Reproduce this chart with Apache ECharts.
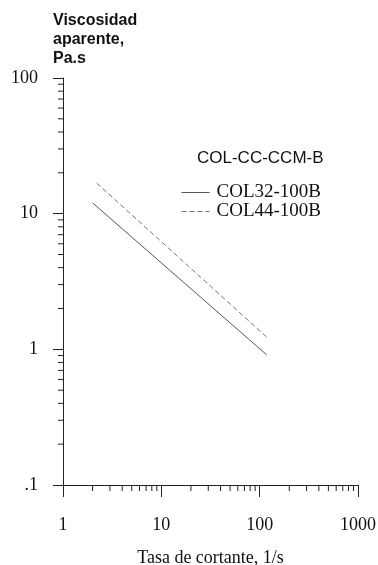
<!DOCTYPE html>
<html>
<head>
<meta charset="utf-8">
<script src="https://cdn.jsdelivr.net/npm/echarts@6/dist/echarts.min.js"></script>
<style>
  html, body { margin: 0; padding: 0; background: #fff; }
  #main { width: 378px; height: 565px; }
</style>
</head>
<body>
<div id="main"></div>
<script>
// datos (log-log)
var seriesNames = ['COL32-100B', 'COL44-100B'];
var col32X = [2.0, 118];
var col32Y = [12.0, 0.91];
var col44X = [2.2, 121];
var col44Y = [16.8, 1.21];
// marcas menores
var xMinor = [2, 3, 4, 5, 6, 7, 8, 9, 20, 30, 40, 50, 60, 70, 80, 90, 200, 300, 400, 500, 600, 700, 800, 900];
var yMinor = [0.2, 0.3, 0.4, 0.5, 0.6, 0.7, 0.8, 0.9, 2, 3, 4, 5, 6, 7, 8, 9, 20, 30, 40, 50, 60, 70, 80, 90];

var chart = echarts.init(document.getElementById('main'));

function pairs(xs, ys) {
  return xs.map(function (x, i) { return [x, ys[i]]; });
}

var serif = 'Liberation Serif';
var sans = 'Liberation Sans';

var option = {
  backgroundColor: '#fff',
  animation: false,
  title: [
    {
      text: 'Viscosidad\naparente,\nPa.s',
      left: 53, top: 11, padding: 0,
      textStyle: { fontFamily: sans, fontSize: 16, fontWeight: 'bold', color: '#111', lineHeight: 19 }
    },
    {
      text: 'COL-CC-CCM-B',
      left: 197, top: 150, padding: 0,
      textStyle: { fontFamily: sans, fontSize: 17, fontWeight: 'normal', color: '#111' }
    }
  ],
  legend: {
    data: seriesNames,
    orient: 'vertical',
    left: 176, top: 178,
    itemWidth: 28, itemHeight: 14, itemGap: 0,
    itemStyle: { opacity: 0 },
    lineStyle: { width: 1 },
    textStyle: { fontFamily: serif, fontSize: 19, color: '#111', padding: [0, 0, 0, 2] }
  },
  grid: { left: 63, right: 20, top: 78, bottom: 80, outerBoundsMode: 'none' },
  xAxis: {
    type: 'log', logBase: 10, min: 1, max: 1000,
    name: 'Tasa de cortante, 1/s',
    nameLocation: 'middle', nameGap: 64,
    nameTextStyle: { fontFamily: serif, fontSize: 18, color: '#111' },
    axisLine: { lineStyle: { color: '#222', width: 1 } },
    axisTick: { length: 12, lineStyle: { color: '#222' } },
    axisLabel: {
      margin: 31, fontFamily: serif, fontSize: 18, color: '#111',
      formatter: function (v) { return String(Math.round(v)); }
    },
    splitLine: { show: false }
  },
  yAxis: {
    type: 'log', logBase: 10, min: 0.1, max: 100,
    axisLine: { show: true, lineStyle: { color: '#222', width: 1 } },
    axisTick: { show: true, length: 10, lineStyle: { color: '#222' } },
    axisLabel: {
      margin: 25, fontFamily: serif, fontSize: 18, color: '#111',
      formatter: function (v) { return Math.abs(v - 0.1) < 1e-9 ? '.1' : String(Math.round(v)); }
    },
    splitLine: { show: false }
  },
  series: [
    {
      name: seriesNames[0], type: 'line', data: pairs(col32X, col32Y),
      symbol: 'none', color: '#555',
      lineStyle: { color: '#555', width: 1, type: 'solid' }
    },
    {
      name: seriesNames[1], type: 'line', data: pairs(col44X, col44Y),
      symbol: 'none', color: '#777',
      lineStyle: { color: '#777', width: 1, type: [5, 3] }
    },
    {
      // marcas menores eje x
      type: 'custom', silent: true,
      data: xMinor.map(function (v) { return [v, 0.1]; }),
      renderItem: function (params, api) {
        var p = api.coord([api.value(0), api.value(1)]);
        return { type: 'line', shape: { x1: p[0], y1: p[1], x2: p[0], y2: p[1] + 6 }, style: { stroke: '#222', lineWidth: 1 } };
      }
    },
    {
      // marcas menores eje y
      type: 'custom', silent: true,
      data: yMinor.map(function (v) { return [1, v]; }),
      renderItem: function (params, api) {
        var p = api.coord([api.value(0), api.value(1)]);
        return { type: 'line', shape: { x1: p[0] - 5, y1: p[1], x2: p[0], y2: p[1] }, style: { stroke: '#222', lineWidth: 1 } };
      }
    }
  ]
};

chart.setOption(option);
</script>
</body>
</html>
